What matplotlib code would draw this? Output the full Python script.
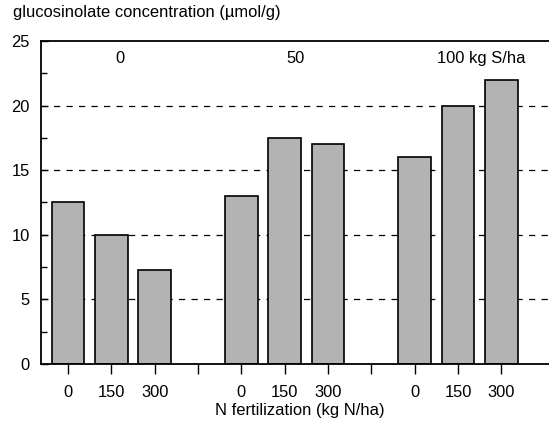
import matplotlib
matplotlib.use("Agg")
import matplotlib.pyplot as plt
from matplotlib.ticker import MultipleLocator

plt.rcParams['font.family'] = ['Liberation Sans', 'DejaVu Sans']

positions = [0, 1, 2, 4, 5, 6, 8, 9, 10]
values = [12.5, 10.0, 7.3, 13.0, 17.5, 17.0, 16.0, 20.0, 22.0]
n_labels = ['0', '150', '300', '0', '150', '300', '0', '150', '300']
sep_positions = [3, 7]
group_labels = ['0', '50', '100 kg S/ha']
group_label_x = [1.2, 5.24, 8.52]

FS = 11.9

fig = plt.figure(figsize=(5.49, 4.23), dpi=100)
W, H = 549, 423
ax = fig.add_axes([41 / W, 1 - 364 / H, 1 - 41 / W, (364 - 41) / H])

for yv in [5, 10, 15, 20]:
    ax.axhline(yv, color='black', lw=0.9, ls=(0, (5, 5)), zorder=1)

ax.bar(positions, values, width=0.755, color='#b3b3b3', edgecolor='black',
       linewidth=1.2, zorder=2)

ax.set_xlim(-0.624, 11.1)
ax.set_ylim(0, 25)
ax.spines['right'].set_visible(False)
for s in ['left', 'top', 'bottom']:
    ax.spines[s].set_linewidth(1.3)

ax.yaxis.set_major_locator(MultipleLocator(5))
ax.yaxis.set_minor_locator(MultipleLocator(2.5))
ax.tick_params(axis='y', which='major', direction='in', length=5, width=1,
               labelsize=FS, pad=8)
ax.tick_params(axis='y', which='minor', direction='in', length=4, width=1)

ax.set_xticks(positions + sep_positions)
ax.set_xticklabels(n_labels + ['', ''])
ax.tick_params(axis='x', which='major', direction='out', length=7, width=1,
               labelsize=FS, pad=8)

for gx, gl in zip(group_label_x, group_labels):
    ha = 'left' if gl.startswith('100') else 'center'
    ax.text(gx, 23.65, gl, ha=ha, va='center', fontsize=FS)

fig.text(13 / W, 1 - 13 / H, 'glucosinolate concentration (µmol/g)',
         ha='left', va='center', fontsize=FS)
fig.text(300 / W, 1 - 410 / H, 'N fertilization (kg N/ha)',
         ha='center', va='center', fontsize=FS)

fig.savefig('out.png', dpi=100)
